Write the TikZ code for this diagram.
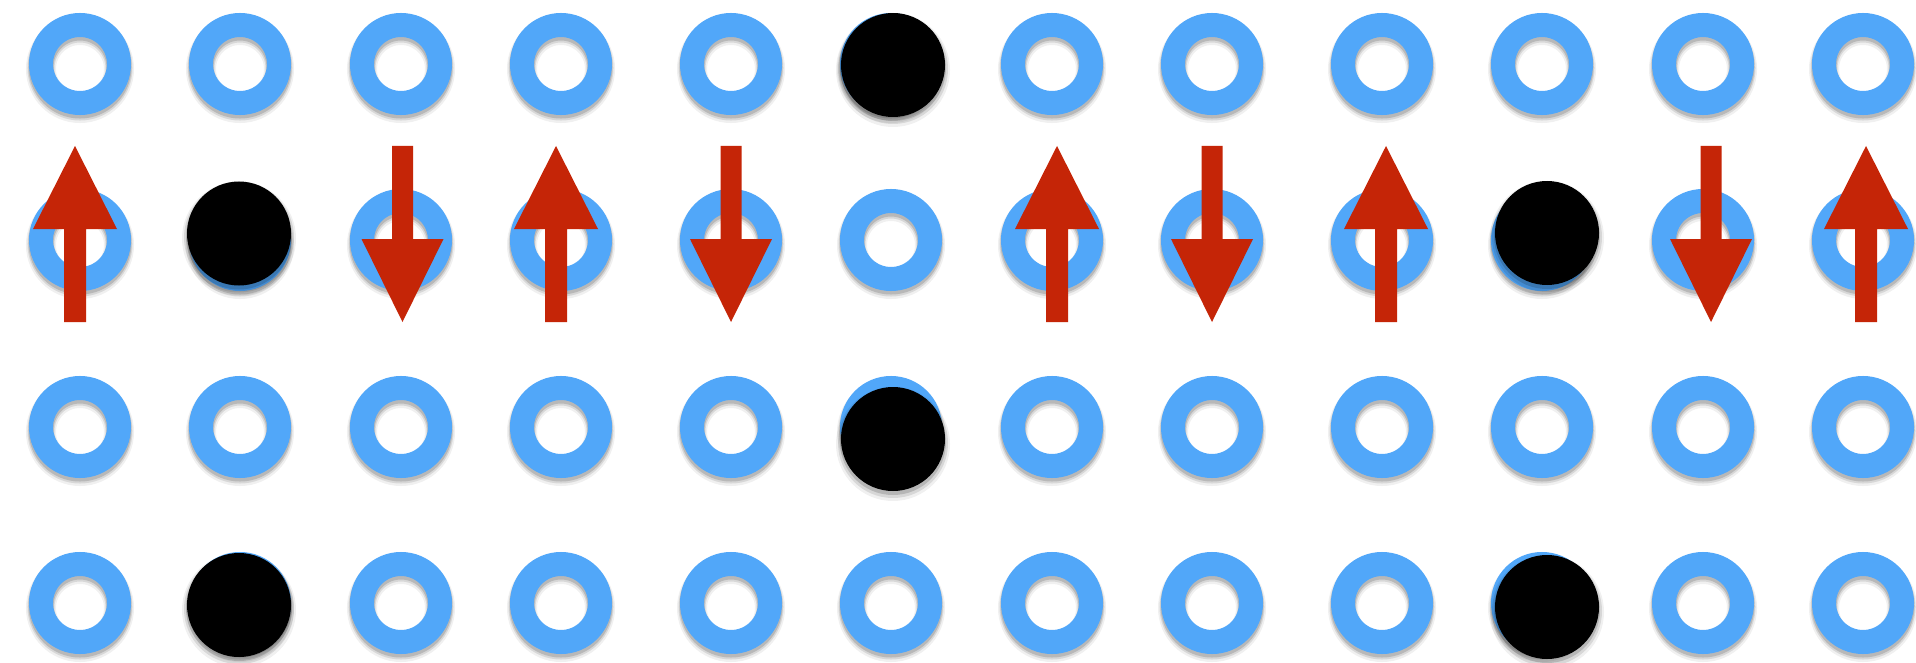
\documentclass[tikz,border=0pt]{standalone}
\definecolor{ringblue}{HTML}{51A7F9}
\definecolor{arrowred}{HTML}{C52507}
\tikzset{
  ringnode/.style={circle, draw=ringblue, line width=24pt, inner sep=0pt, minimum size=78pt},
  holenode/.style={circle, fill=black, inner sep=0pt, minimum size=104pt},
  upspin/.pic={\fill[arrowred] (-11,322) -- (-11,229) -- (-42,229) -- (0,146) -- (42,229) -- (11,229) -- (11,322) -- cycle;},
  downspin/.pic={\fill[arrowred] (-10.5,146) -- (-10.5,239) -- (-41,239) -- (0,322) -- (41,239) -- (10.5,239) -- (10.5,146) -- cycle;}
}
\begin{document}
\begin{tikzpicture}[x=1pt, y=-1pt]
\fill[white] (0,0) rectangle (1916,663);
\useasboundingbox (0,0) rectangle (1916,663);
% ring shadows and rings
\foreach \y [count=\j] in {64,240,427,603}{
  \foreach \x [count=\i] in {80,240,401,561,731,891,1052,1212,1382,1542,1703,1863}{
    \draw[black, opacity=0.06, line width=30pt] (\x,\y+5) circle (39);
    \draw[black, opacity=0.10, line width=27pt] (\x,\y+4) circle (39);
    \draw[black, opacity=0.14, line width=25pt] (\x,\y+3) circle (39);
    \node[ringnode] (r-\i-\j) at (\x,\y) {};
  }
}
% holes (black circles)
\foreach \x/\y/\n in {893/65/b1, 239/233.5/b2, 1547/233/b3, 893/439/b4, 239/605/b5, 1547/607/b6}{
  \fill[black, opacity=0.06] (\x,\y+5) circle (57);
  \fill[black, opacity=0.10] (\x,\y+4) circle (55);
  \fill[black, opacity=0.15] (\x,\y+3) circle (53);
  \node[holenode] (\n) at (\x,\y) {};
}
% spin arrows
\foreach \x [count=\k] in {75,556,1057,1386,1866}{
  \coordinate (up\k) at (\x,0);
  \pic at (up\k) {upspin};
}
\foreach \x [count=\k] in {402.5,731,1212,1711}{
  \coordinate (dn\k) at (\x,0);
  \pic at (dn\k) {downspin};
}
\end{tikzpicture}
\end{document}
